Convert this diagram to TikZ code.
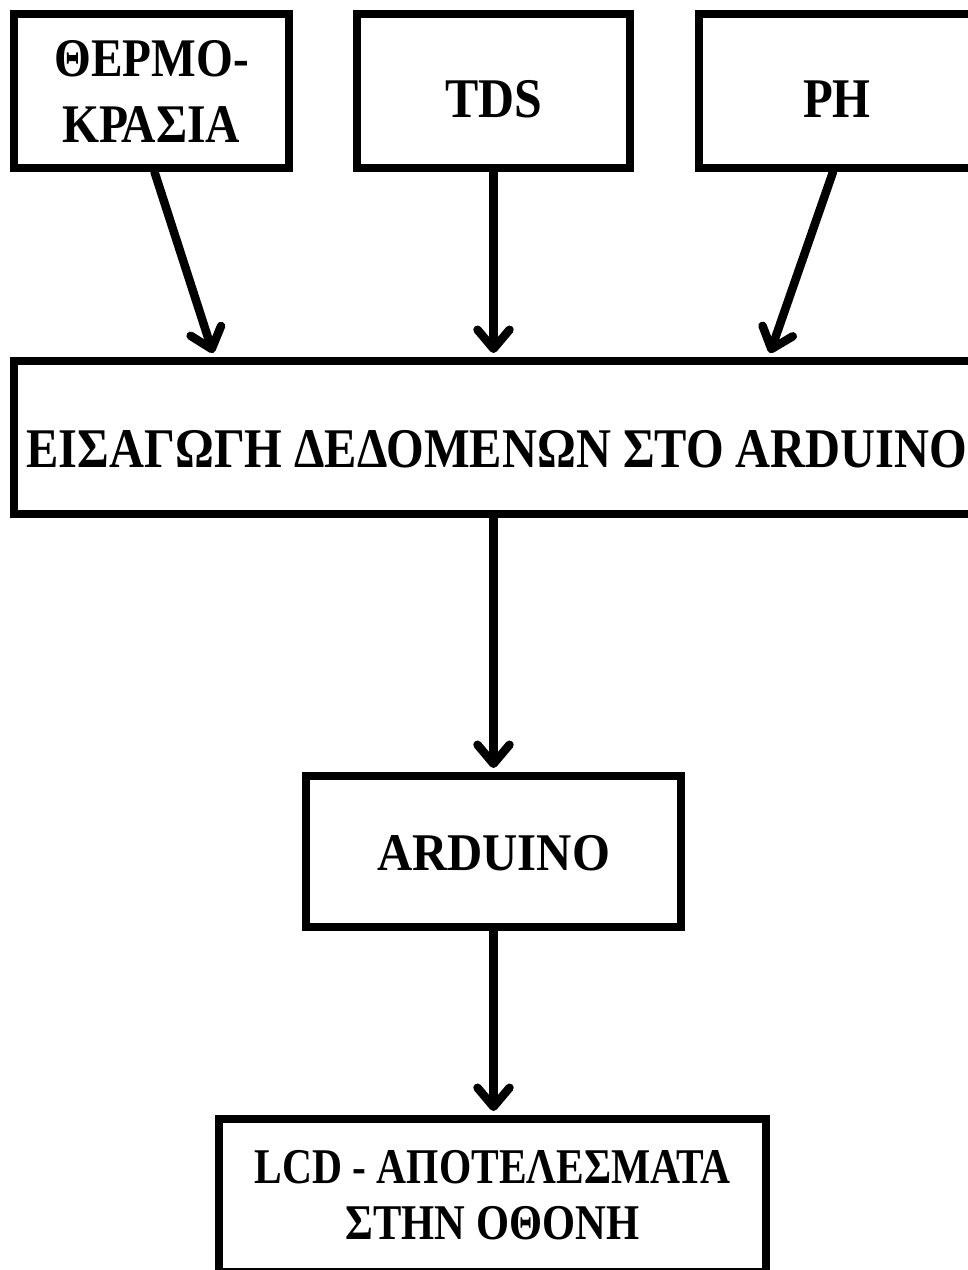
\documentclass[tikz,border=0pt]{standalone}
\usepackage{fontspec}
\setmainfont{Liberation Serif}
\usetikzlibrary{arrows.meta,calc}
\newcommand\sqz[2]{\scalebox{#1}[1]{#2}}
\begin{document}
\begin{tikzpicture}[x=1pt,y=-1pt,
  box/.style={draw=black, line width=8pt, rectangle, inner sep=0pt},
  arr/.style={line width=8.5pt, line cap=round,
    -{Straight Barb[length=19pt,width=32pt,round]}}]
\useasboundingbox (0,0) rectangle (968,1270);
\fill[white] (0,0) rectangle (968,1270);
\clip (0,0) rectangle (968,1270);
\node[box, minimum width=275pt, minimum height=154pt,
  font=\bfseries\fontsize{54.4}{66}\selectfont, align=center]
  (B1) at (151.5,91) {\sqz{0.87}{ΘΕΡΜΟ-}\\\sqz{0.875}{ΚΡΑΣΙΑ}};
\node[box, minimum width=273pt, minimum height=154pt,
  font=\bfseries\fontsize{56}{60}\selectfont, text height=52pt, text depth=0pt]
  (TDS) at (493.5,91) {\sqz{0.89}{TDS}};
\node[box, minimum width=276pt, minimum height=154pt,
  font=\bfseries\fontsize{56}{60}\selectfont, text height=52pt, text depth=0pt]
  (PH) at (837,91) {\sqz{0.87}{PH}};
\node[box, minimum width=966pt, minimum height=153pt,
  font=\bfseries\fontsize{56}{60}\selectfont, text height=60pt, text depth=0pt]
  (main) at (497,437.5) {\sqz{0.865}{ΕΙΣΑΓΩΓΗ ΔΕΔΟΜΕΝΩΝ ΣΤΟ ARDUINO}};
\node[box, minimum width=375pt, minimum height=151pt,
  font=\bfseries\fontsize{53}{60}\selectfont, text height=37pt, text depth=0pt]
  (ard) at (493.5,851.5) {\sqz{0.92}{ARDUINO}};
\node[box, minimum width=547pt, minimum height=153pt,
  font=\bfseries\fontsize{50}{56}\selectfont, align=center]
  (lcd) at (492.5,1195.5) {\sqz{0.83}{LCD - ΑΠΟΤΕΛΕΣΜΑΤΑ}\\\sqz{0.85}{ΣΤΗΝ ΟΘΟΝΗ}};
\coordinate (t1) at (213,0);
\coordinate (t3) at (770,0);
\draw[arr] ([xshift=3pt]B1.south) -- ($(main.north -| t1)+(0,-4)$);
\draw[arr] (TDS.south) -- ($(main.north -| TDS.south)+(0,-4)$);
\draw[arr] ([xshift=-4pt]PH.south) -- ($(main.north -| t3)+(0,-4)$);
\draw[arr] (main.south -| ard.north) -- ($(ard.north)+(0,-4)$);
\draw[arr] (ard.south) -- ($(ard.south |- lcd.north)+(0,-4)$);
\end{tikzpicture}
\end{document}
